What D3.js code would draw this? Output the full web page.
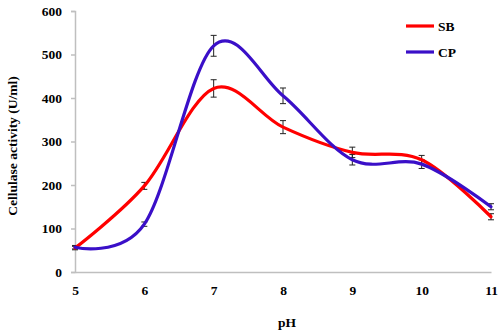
<!DOCTYPE html>
<html><head><meta charset="utf-8">
<script src="https://cdn.jsdelivr.net/npm/d3@7"></script>
<style>body{margin:0;background:#fff}svg{display:block}</style>
</head><body>
<svg id="c" width="500" height="333"></svg>
<script>
const pH = [5, 6, 7, 8, 9, 10, 11];
const sbValues = [55, 198, 422, 333, 275, 258, 127];
const sbErrors = [4, 8, 20, 15, 12, 10, 7];
const cpValues = [57, 110, 520, 405, 258, 248, 150];
const cpErrors = [4, 5, 24, 18, 12, 10, 7];
const yTicks = [0, 100, 200, 300, 400, 500, 600];
const seriesNames = ["SB", "CP"];
const colors = ["#ff0000", "#3a0fc8"];

const FONT = "'Liberation Serif', 'Times New Roman', Times, serif";
const svg = d3.select("#c");
const x = d3.scaleLinear().domain([5, 11]).range([75, 491]);
const y = d3.scaleLinear().domain([0, 600]).range([272, 11]);

function styleText(sel, size) {
  sel.style("font-family", FONT).style("font-weight", "bold").style("font-size", size + "px").style("fill", "#000");
}

// axes
const yAxis = d3.axisLeft(y).tickValues(yTicks).tickFormat(d3.format("d")).tickSize(4).tickPadding(9);
const gy = svg.append("g").attr("transform", "translate(75,0)").call(yAxis);
gy.select(".domain").attr("stroke", "#bfbfbf").attr("stroke-width", 1.5);
gy.selectAll(".tick line").attr("stroke", "#bfbfbf").attr("stroke-width", 1.5);
styleText(gy.selectAll("text"), 13.5);

const xAxis = d3.axisBottom(x).tickValues(pH).tickFormat(d3.format("d")).tickSize(0).tickPadding(13);
const gx = svg.append("g").attr("transform", "translate(0,272)").call(xAxis);
gx.select(".domain").attr("stroke", "#bfbfbf").attr("stroke-width", 1.5);
styleText(gx.selectAll("text"), 13.5);

// titles
styleText(svg.append("text").attr("x", 287).attr("y", 327).attr("text-anchor", "middle").text("pH"), 13.5);
styleText(svg.append("text").attr("transform", "translate(17,146) rotate(-90)").attr("text-anchor", "middle").text("Cellulase activity (U/ml)"), 13.5);

const series = [
  {name: seriesNames[0], values: sbValues, errors: sbErrors, color: colors[0]},
  {name: seriesNames[1], values: cpValues, errors: cpErrors, color: colors[1]}
];

// error bars
series.forEach(s => {
  const g = svg.append("g").attr("stroke", "#222").attr("stroke-width", 1);
  pH.forEach((p, i) => {
    const cx = x(p), y1 = y(s.values[i] + s.errors[i]), y2 = y(s.values[i] - s.errors[i]);
    g.append("line").attr("x1", cx).attr("x2", cx).attr("y1", y1).attr("y2", y2);
    g.append("line").attr("x1", cx - 3).attr("x2", cx + 3).attr("y1", y1).attr("y2", y1);
    g.append("line").attr("x1", cx - 3).attr("x2", cx + 3).attr("y1", y2).attr("y2", y2);
  });
});

// lines
const line = d3.line().x((d, i) => x(pH[i])).y(d => y(d)).curve(d3.curveCardinal.tension(0));
series.forEach(s => {
  svg.append("path").attr("d", line(s.values)).attr("fill", "none")
    .attr("stroke", s.color).attr("stroke-width", 3.2).attr("stroke-linecap", "round");
});

// legend
series.forEach((s, i) => {
  const ly = 26 + i * 26;
  svg.append("line").attr("x1", 406).attr("x2", 434).attr("y1", ly).attr("y2", ly)
    .attr("stroke", s.color).attr("stroke-width", 3.2);
  styleText(svg.append("text").attr("x", 438).attr("y", ly + 5).text(s.name), 13.5);
});
</script>
</body></html>
